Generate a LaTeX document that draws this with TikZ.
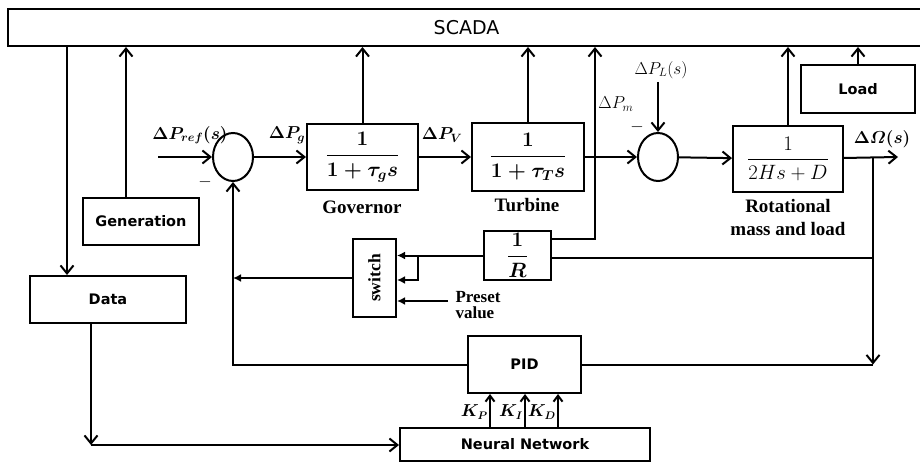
\documentclass[tikz,border=0pt]{standalone}
\usepackage{amsmath, amssymb, bm}
\usepackage{graphicx}
\usepackage{fontspec}
\setmainfont{Liberation Serif}
\newfontfamily\boxsans{DejaVu Sans}
\usetikzlibrary{arrows.meta, shapes.geometric, positioning, calc}

\tikzset{
  blk/.style={draw, line width=2pt, inner sep=0pt, font=\boxsans\bfseries\fontsize{14.5}{16}\selectfont},
  fracblk/.style={blk, font=\fontsize{20}{24}\selectfont},
  sumnode/.style={draw, ellipse, line width=2pt, minimum width=40pt, minimum height=48pt, inner sep=0pt},
  wire/.style={line width=2pt},
  arr/.style={wire, -{Straight Barb[length=8pt, width=13pt]}},
  karr/.style={wire, -{Straight Barb[length=6pt, width=9pt]}},
  sarr/.style={wire, -{Latex[length=8pt, width=8pt]}},
  lab/.style={font=\bfseries\fontsize{19}{23}\selectfont, align=center},
  mlab/.style={font=\fontsize{18}{20}\selectfont, inner sep=1pt},
}

\begin{document}
\begin{tikzpicture}[x=1pt, y=-1pt]
\useasboundingbox (0,0) rectangle (920,462);

\node[blk, font=\boxsans\fontsize{19}{21}\selectfont, minimum width=917pt, minimum height=37pt] (scada) at (466.5,27.5) {SCADA};
\node[blk, minimum width=116pt, minimum height=47pt] (gen) at (141,221.5) {Generation};
\node[blk, minimum width=156pt, minimum height=47pt] (data) at (108,299.5) {Data};
\node[blk, minimum width=114pt, minimum height=48pt] (load) at (858,89) {Load};
\node[blk, minimum width=113pt, minimum height=57pt] (pid) at (524.5,364.5) {PID};
\node[blk, minimum width=250pt, minimum height=33pt] (nn) at (525,444.5) {Neural Network};

\node[sumnode] (sumA) at (233,157) {};
\node[sumnode] (sumB) at (658,157) {};

\node[fracblk, minimum width=111pt, minimum height=66pt] (gov) at (362.5,157) {$\bm{\dfrac{1}{1+\tau_g s}}$};
\node[fracblk, minimum width=112pt, minimum height=68pt] (turb) at (528,157) {$\bm{\dfrac{1}{1+\tau_T s}}$};
\node[fracblk, minimum width=110pt, minimum height=66pt] (rot) at (788,159) {$\dfrac{1}{2Hs+D}$};
\node[fracblk, minimum width=67pt, minimum height=49pt] (rinv) at (517.5,255.5) {$\bm{\dfrac{1}{R}}$};
\node[blk, font=\bfseries\fontsize{17.5}{18}\selectfont, minimum width=43pt, minimum height=78pt] (sw) at (374.5,278) {\rotatebox{90}{switch}};

\node[lab] at (362,207) {Governor};
\node[lab] at (527,205) {Turbine};
\node[lab] at (788,218) {Rotational\\mass and load};
\node[lab, font=\bfseries\fontsize{17}{16}\selectfont, anchor=west, align=left] at (452,305) {Preset\\value};

\coordinate (ref) at (158,157);
\coordinate (pm) at (595,157);
\coordinate (pl) at (658,82);
\coordinate (om) at (873,157);
\coordinate (out) at (898,157);
\coordinate (dtap) at (67,46);
\coordinate (dcor) at (91,445);
\coordinate (br) at (418,255.5);
\coordinate (pre) at (448,301);

\draw[arr] (ref) -- (sumA.west);
\draw[arr] (sumA) -- (gov);
\draw[arr] (gov) -- (turb);
\draw[arr] (turb) -- (sumB);
\draw[arr] (sumB) -- (rot);
\draw[arr] (rot) -- (out);
\draw[arr] (pl) -- (sumB.north);

\draw[arr] ([xshift=-15pt]gen.north) -- ([xshift=-15pt]gen.north |- scada.south);
\draw[arr] (gov.north) -- (gov.north |- scada.south);
\draw[arr] (turb.north) -- (turb.north |- scada.south);
\draw[arr] (rot.north) -- (rot.north |- scada.south);
\draw[arr] (load.north) -- (load.north |- scada.south);
\draw[arr] ([yshift=16pt]rinv.east) -| (pm) -- (pm |- scada.south);

\draw[arr] (om) -- (om |- pid.east);
\draw[wire] (pid.east) -- (om |- pid.east);
\draw[wire] ([yshift=-2pt]rinv.east) -- ([yshift=-2pt]rinv.east -| om);

\draw[sarr] (rinv.west) -- (rinv.west -| sw.east);
\draw[sarr] (br) |- ([yshift=-2pt]sw.east);
\draw[sarr] (pre) -- (pre -| sw.east);
\draw[sarr] (sw.west) -- (sw.west -| sumA);
\draw[arr] (pid.west) -| (sumA.south);

\draw[arr] (dtap) -- (dtap |- data.north);
\draw[arr] (data.south -| dcor) -- (dcor);
\draw[arr] (dcor) -- (nn.west |- dcor);

\foreach \kx/\kn in {490/P, 525/I, 558/D} {
  \draw[karr] (\kx,0 |- nn.north) -- (\kx,0 |- pid.south);
  \node[mlab, font=\fontsize{16}{18}\selectfont, anchor=east] at ({\kx-1},412) {$\bm{K_{\kn}}$};
}

\node[mlab] at (190,135) {$\bm{\Delta P_{ref}(s)}$};
\node[mlab] at (287,135) {$\bm{\Delta P_g}$};
\node[mlab] at (442,135) {$\bm{\Delta P_V}$};
\node[mlab] at (616,104) {$\Delta P_m$};
\node[mlab] at (661,70) {$\Delta P_L(s)$};
\node[mlab] at (882,139) {$\bm{\Delta\varOmega(s)}$};
\node[mlab] at (205,182) {$-$};
\node[mlab] at (637,127) {$-$};
\end{tikzpicture}
\end{document}
